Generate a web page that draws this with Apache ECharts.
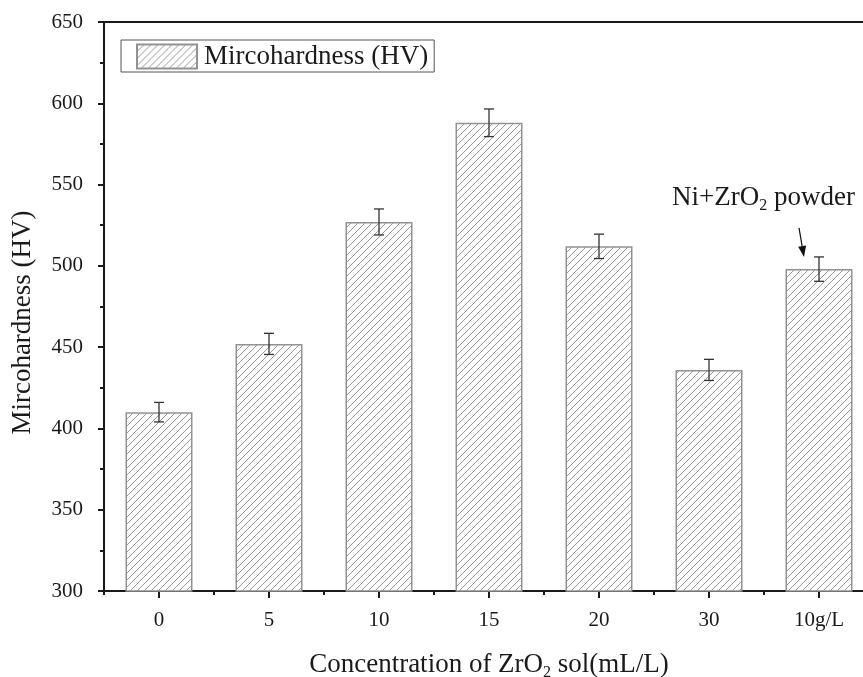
<!DOCTYPE html>
<html><head><meta charset="utf-8">
<script src="https://cdn.jsdelivr.net/npm/echarts@6/dist/echarts.min.js"></script>
<style>html,body{margin:0;padding:0;background:#fff}#c{width:863px;height:677px}</style>
</head><body><div id="c"></div>
<script>
const categories = ['0', '5', '10', '15', '20', '30', '10g/L'];
const hardness = [410, 452, 527, 588, 512, 436, 498];
const errors = [6, 6.5, 8, 8.5, 7.5, 6.5, 7.5];
const yMin = 300, yMax = 650, yInterval = 50;
const seriesName = 'Mircohardness (HV)';
const annotationIndex = 6;

const FONT = 'Liberation Serif';
const INK = '#1a1a1a';

function hatchPattern() {
  const s = 7;
  const c = document.createElement('canvas');
  c.width = s; c.height = s;
  const g = c.getContext('2d');
  g.fillStyle = '#ffffff';
  g.fillRect(0, 0, s, s);
  g.strokeStyle = '#9a9a9a';
  g.lineWidth = 1;
  g.beginPath();
  g.moveTo(-1, s + 1); g.lineTo(s + 1, -1);
  g.moveTo(-1, 1); g.lineTo(1, -1);
  g.moveTo(s - 1, s + 1); g.lineTo(s + 1, s - 1);
  g.stroke();
  return c;
}
const pattern = { image: hatchPattern(), repeat: 'repeat' };

const chart = echarts.init(document.getElementById('c'), null, { renderer: 'canvas' });

const option = {
  backgroundColor: '#ffffff',
  animation: false,
  grid: { left: 104, top: 22, width: 770, bottom: 86, containLabel: false, outerBoundsMode: 'none' },
  legend: {
    data: [seriesName],
    left: 121, top: 40,
    orient: 'horizontal',
    borderColor: '#555', borderWidth: 1,
    padding: [3, 6, 2, 15],
    itemWidth: 60, itemHeight: 24,
    icon: 'rect',
    textStyle: { fontFamily: FONT, fontSize: 27, color: INK, padding: [0, 0, 0, 2] }
  },
  xAxis: [
    {
      type: 'category', data: categories, position: 'bottom',
      axisLine: { show: true, lineStyle: { color: INK, width: 2 } },
      axisTick: { show: true, alignWithLabel: true, length: 7, lineStyle: { color: INK, width: 2 } },
      axisLabel: { fontFamily: FONT, fontSize: 21, color: INK, margin: 19 },
      name: 'Concentration of ZrO{sub|2} sol(mL/L)',
      nameLocation: 'middle', nameGap: 58,
      nameTextStyle: {
        fontFamily: FONT, fontSize: 27, color: INK,
        rich: { sub: { fontFamily: FONT, fontSize: 16, color: INK, padding: [16, 0, 0, 0] } }
      }
    },
    {
      type: 'category', data: categories, position: 'bottom',
      axisLine: { show: false },
      axisTick: { show: true, length: 4, lineStyle: { color: INK, width: 2 } },
      axisLabel: { show: false }
    },
    {
      type: 'category', data: categories, position: 'top',
      axisLine: { show: true, lineStyle: { color: INK, width: 2 } },
      axisTick: { show: false }, axisLabel: { show: false }
    }
  ],
  yAxis: {
    type: 'value', min: yMin, max: yMax, interval: yInterval,
    axisLine: { show: true, lineStyle: { color: INK, width: 2 } },
    axisTick: { show: true, length: 6, lineStyle: { color: INK, width: 2 } },
    minorTick: { show: true, splitNumber: 2, length: 4, lineStyle: { color: INK, width: 2 } },
    splitLine: { show: false },
    axisLabel: { fontFamily: FONT, fontSize: 21, color: INK, margin: 21 },
    name: seriesName, nameLocation: 'middle', nameGap: 68,
    nameTextStyle: { fontFamily: FONT, fontSize: 27, color: INK, padding: [0, 32, 0, 0] }
  },
  series: [
    {
      name: seriesName, type: 'bar', xAxisIndex: 0,
      data: hardness, barWidth: 67,
      itemStyle: { color: pattern, borderColor: '#929292', borderWidth: 1.5 }
    },
    {
      name: 'err', type: 'custom', xAxisIndex: 0, z: 5,
      data: hardness.map((v, i) => [i, v, errors[i]]),
      encode: { x: 0, y: 1 },
      renderItem: function (params, api) {
        const x = api.value(0), v = api.value(1), e = api.value(2);
        const top = api.coord([x, v + e]);
        const bot = api.coord([x, v - e]);
        const hw = 5;
        const st = { stroke: '#333', lineWidth: 1.3 };
        return {
          type: 'group', children: [
            { type: 'line', shape: { x1: top[0], y1: top[1], x2: bot[0], y2: bot[1] }, style: st },
            { type: 'line', shape: { x1: top[0] - hw, y1: top[1], x2: top[0] + hw, y2: top[1] }, style: st },
            { type: 'line', shape: { x1: bot[0] - hw, y1: bot[1], x2: bot[0] + hw, y2: bot[1] }, style: st }
          ]
        };
      }
    },
    {
      name: 'note', type: 'custom', xAxisIndex: 0, z: 6,
      data: [[annotationIndex, hardness[annotationIndex] + errors[annotationIndex]]],
      encode: { x: 0, y: 1 },
      renderItem: function (params, api) {
        const p = api.coord([api.value(0), api.value(1)]);
        const tip = [p[0] - 15, p[1]];
        const start = [p[0] - 20, p[1] - 29];
        const dx = tip[0] - start[0], dy = tip[1] - start[1];
        const len = Math.sqrt(dx * dx + dy * dy);
        const ux = dx / len, uy = dy / len;
        const ah = 11, aw = 4;
        const base = [tip[0] - ux * ah, tip[1] - uy * ah];
        return {
          type: 'group', children: [
            { type: 'line', shape: { x1: start[0], y1: start[1], x2: base[0], y2: base[1] }, style: { stroke: '#111', lineWidth: 1.2 } },
            { type: 'polygon', shape: { points: [tip, [base[0] - uy * aw, base[1] + ux * aw], [base[0] + uy * aw, base[1] - ux * aw]] }, style: { fill: '#111' } },
            {
              type: 'text', x: p[0] - 147, y: p[1] - 59,
              style: {
                text: 'Ni+ZrO{sub|2} powder',
                fontFamily: FONT, fontSize: 27, fill: INK,
                verticalAlign: 'middle', align: 'left',
                rich: { sub: { fontFamily: FONT, fontSize: 16, fill: INK, padding: [16, 0, 0, 0] } }
              }
            }
          ]
        };
      }
    }
  ]
};
chart.setOption(option);
</script>
</body></html>
